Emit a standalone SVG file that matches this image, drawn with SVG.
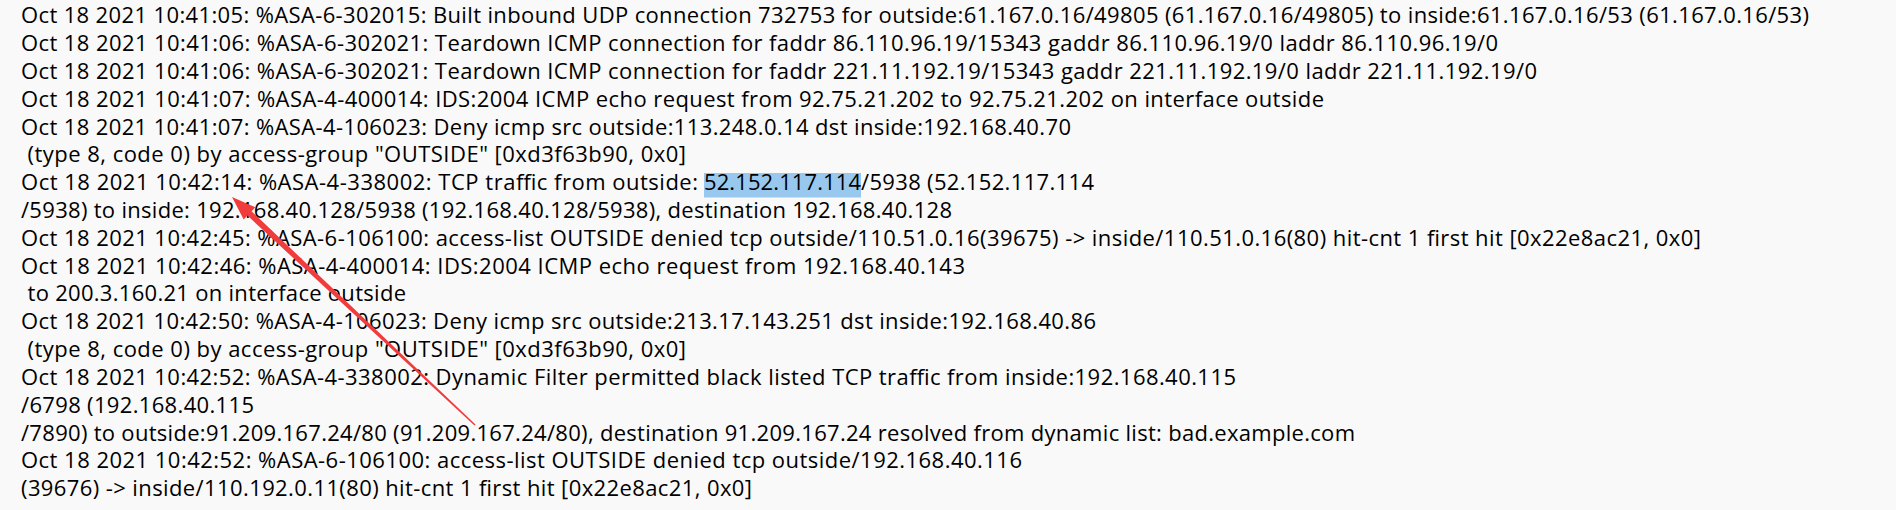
<svg xmlns="http://www.w3.org/2000/svg" width="1896" height="510" viewBox="0 0 1896 510">
<style>
.t{font-family:"Open Sans","Noto Sans","Liberation Sans",sans-serif;font-size:22px;fill:#000;}
.hl{fill:#99c8ee;}
.arrow{fill:#f03c3c;}
</style>
<rect x="0" y="0" width="1896" height="510" fill="#f9f9f9"/>
<g id="highlight">
<rect class="hl" x="704" y="173" width="157" height="24.5"/>
</g>
<g id="log-lines">
<g id="line1"><text class="t" x="21" y="23" textLength="1788" lengthAdjust="spacing">Oct 18 2021 10:41:05: %ASA-6-302015: Built inbound UDP connection 732753 for outside:61.167.0.16/49805 (61.167.0.16/49805) to inside:61.167.0.16/53 (61.167.0.16/53)</text></g>
<g id="line2"><text class="t" x="21" y="51" textLength="1477" lengthAdjust="spacing">Oct 18 2021 10:41:06: %ASA-6-302021: Teardown ICMP connection for faddr 86.110.96.19/15343 gaddr 86.110.96.19/0 laddr 86.110.96.19/0</text></g>
<g id="line3"><text class="t" x="21" y="79" textLength="1516" lengthAdjust="spacing">Oct 18 2021 10:41:06: %ASA-6-302021: Teardown ICMP connection for faddr 221.11.192.19/15343 gaddr 221.11.192.19/0 laddr 221.11.192.19/0</text></g>
<g id="line4"><text class="t" x="21" y="106.5" textLength="1303" lengthAdjust="spacing">Oct 18 2021 10:41:07: %ASA-4-400014: IDS:2004 ICMP echo request from 92.75.21.202 to 92.75.21.202 on interface outside</text></g>
<g id="line5"><text class="t" x="21" y="134.5" textLength="1050" lengthAdjust="spacing">Oct 18 2021 10:41:07: %ASA-4-106023: Deny icmp src outside:113.248.0.14 dst inside:192.168.40.70</text></g>
<g id="line6"><text class="t" x="27.5" y="162" textLength="658.5" lengthAdjust="spacing">(type 8, code 0) by access-group "OUTSIDE" [0xd3f63b90, 0x0]</text></g>
<g id="line7">
<text class="t" x="21" y="190" textLength="677" lengthAdjust="spacing">Oct 18 2021 10:42:14: %ASA-4-338002: TCP traffic from outside:</text>
<text class="t" x="704" y="190" textLength="157" lengthAdjust="spacing">52.152.117.114</text>
<text class="t" x="861" y="190" textLength="233" lengthAdjust="spacing">/5938 (52.152.117.114</text>
</g>
<g id="line8"><text class="t" x="21" y="218" textLength="931" lengthAdjust="spacing">/5938) to inside: 192.168.40.128/5938 (192.168.40.128/5938), destination 192.168.40.128</text></g>
<g id="line9"><text class="t" x="21" y="245.5" textLength="1680" lengthAdjust="spacing">Oct 18 2021 10:42:45: %ASA-6-106100: access-list OUTSIDE denied tcp outside/110.51.0.16(39675) -&gt; inside/110.51.0.16(80) hit-cnt 1 first hit [0x22e8ac21, 0x0]</text></g>
<g id="line10"><text class="t" x="21" y="273.5" textLength="944" lengthAdjust="spacing">Oct 18 2021 10:42:46: %ASA-4-400014: IDS:2004 ICMP echo request from 192.168.40.143</text></g>
<g id="line11"><text class="t" x="27.5" y="301" textLength="378.5" lengthAdjust="spacing">to 200.3.160.21 on interface outside</text></g>
<g id="line12"><text class="t" x="21" y="329" textLength="1075" lengthAdjust="spacing">Oct 18 2021 10:42:50: %ASA-4-106023: Deny icmp src outside:213.17.143.251 dst inside:192.168.40.86</text></g>
<g id="line13"><text class="t" x="27.5" y="357" textLength="658.5" lengthAdjust="spacing">(type 8, code 0) by access-group "OUTSIDE" [0xd3f63b90, 0x0]</text></g>
<g id="line14"><text class="t" x="21" y="385" textLength="1215" lengthAdjust="spacing">Oct 18 2021 10:42:52: %ASA-4-338002: Dynamic Filter permitted black listed TCP traffic from inside:192.168.40.115</text></g>
<g id="line15"><text class="t" x="21" y="412.5" textLength="233" lengthAdjust="spacing">/6798 (192.168.40.115</text></g>
<g id="line16"><text class="t" x="21" y="440.5" textLength="1334" lengthAdjust="spacing">/7890) to outside:91.209.167.24/80 (91.209.167.24/80), destination 91.209.167.24 resolved from dynamic list: bad.example.com</text></g>
<g id="line17"><text class="t" x="21" y="468" textLength="1001" lengthAdjust="spacing">Oct 18 2021 10:42:52: %ASA-6-106100: access-list OUTSIDE denied tcp outside/192.168.40.116</text></g>
<g id="line18"><text class="t" x="21" y="496" textLength="731" lengthAdjust="spacing">(39676) -&gt; inside/110.192.0.11(80) hit-cnt 1 first hit [0x22e8ac21, 0x0]</text></g>
</g>
<g id="connectors">
<polygon class="arrow" points="232,197 255.3,207.2 251.6,211.2 475.5,424.5 474.5,425.5 247.4,215.6 243.7,219.6"/>
</g>
</svg>
